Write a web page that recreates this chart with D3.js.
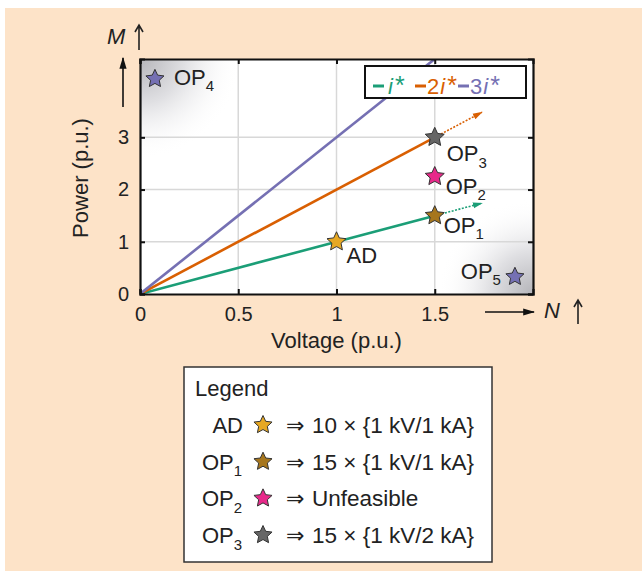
<!DOCTYPE html>
<html>
<head>
<meta charset="utf-8">
<script src="https://cdn.jsdelivr.net/npm/d3@7"></script>
<style>
  body { margin: 0; background: #fff; }
  svg text { font-family: "Liberation Sans", Arial, sans-serif; fill: #222; }
</style>
</head>
<body>
<svg id="chart" width="642" height="571"></svg>
<script>
// ---- data ----
const xTicks = [0, 0.5, 1, 1.5];
const yTicks = [0, 1, 2, 3];
const seriesNames = ['i*', '2i*', '3i*'];
const seriesSlopes = [1, 2, 3];
const seriesSolidEnd = [1.5, 1.5, 1.5];
const seriesDashEnd = [1.74, 1.74, null];
const seriesColors = ['#1b9e77', '#d95f02', '#7570b3'];

const pointNames = ['AD', 'OP1', 'OP2', 'OP3', 'OP4', 'OP5'];
const pointV = [1, 1.5, 1.5, 1.5, 0.076, 1.908];
const pointP = [1, 1.5, 2.25, 3, 4.12, 0.33];
const pointColors = ['#e6a823', '#a6761d', '#e7298a', '#666666', '#7570b3', '#7570b3'];

const legendNames = ['AD', 'OP1', 'OP2', 'OP3'];
const legendTexts = ['10 \u00d7 {1 kV/1 kA}', '15 \u00d7 {1 kV/1 kA}', 'Unfeasible', '15 \u00d7 {1 kV/2 kA}'];

// ---- layout ----
const svg = d3.select('#chart');
const plot = {left: 140, right: 533, top: 59, bottom: 294};
const x = d3.scaleLinear().domain([0, 2]).range([plot.left, plot.right]);
const y = d3.scaleLinear().domain([0, 4.5]).range([plot.bottom, plot.top]);

svg.append('rect').attr('x', 5).attr('y', 8).attr('width', 637).attr('height', 563).attr('fill', '#fde3c8');

const defs = svg.append('defs');
const grad = (id) => {
  const g = defs.append('radialGradient').attr('id', id).attr('r', 0.5);
  g.append('stop').attr('offset', 0).attr('stop-color', '#b5b5ba');
  g.append('stop').attr('offset', 0.45).attr('stop-color', '#e0e0e3');
  g.append('stop').attr('offset', 1).attr('stop-color', '#fff').attr('stop-opacity', 0);
};
grad('gTL'); grad('gBR');
defs.append('clipPath').attr('id', 'plotClip')
  .append('rect').attr('x', plot.left).attr('y', plot.top)
  .attr('width', plot.right - plot.left).attr('height', plot.bottom - plot.top);
const mk = (id, color, w) => defs.append('marker').attr('id', id)
  .attr('viewBox', '0 0 10 10').attr('refX', 9).attr('refY', 5)
  .attr('markerWidth', w).attr('markerHeight', w).attr('orient', 'auto')
  .attr('markerUnits', 'userSpaceOnUse')
  .append('path').attr('d', 'M0,2L10,5L0,8Z').attr('fill', color);
seriesColors.forEach((c, i) => mk('arr' + i, c, 10));
mk('arrK', '#111', 12);

svg.append('rect').attr('x', plot.left).attr('y', plot.top)
  .attr('width', plot.right - plot.left).attr('height', plot.bottom - plot.top).attr('fill', '#fff');

const clipG = svg.append('g').attr('clip-path', 'url(#plotClip)');
clipG.append('circle').attr('cx', plot.left).attr('cy', plot.top).attr('r', 100).attr('fill', 'url(#gTL)');
clipG.append('circle').attr('cx', plot.right).attr('cy', plot.bottom).attr('r', 95).attr('fill', 'url(#gBR)');

// grid
clipG.selectAll('.vg').data(xTicks.slice(1)).join('line')
  .attr('x1', d => x(d)).attr('x2', d => x(d)).attr('y1', plot.top).attr('y2', plot.bottom)
  .attr('stroke', '#d8d8d8').attr('stroke-width', 1.5);
clipG.selectAll('.hg').data(yTicks.slice(1)).join('line')
  .attr('y1', d => y(d)).attr('y2', d => y(d)).attr('x1', plot.left).attr('x2', plot.right)
  .attr('stroke', '#d8d8d8').attr('stroke-width', 1.5);

// series lines
seriesSlopes.forEach((s, i) => {
  clipG.append('line')
    .attr('x1', x(0)).attr('y1', y(0))
    .attr('x2', x(seriesSolidEnd[i])).attr('y2', y(s * seriesSolidEnd[i]))
    .attr('stroke', seriesColors[i]).attr('stroke-width', 2.6);
  if (seriesDashEnd[i] != null) {
    clipG.append('line')
      .attr('x1', x(seriesSolidEnd[i])).attr('y1', y(s * seriesSolidEnd[i]))
      .attr('x2', x(seriesDashEnd[i])).attr('y2', y(s * seriesDashEnd[i]))
      .attr('stroke', seriesColors[i]).attr('stroke-width', 1.6)
      .attr('stroke-dasharray', '2,1.5').attr('marker-end', `url(#arr${i})`);
  }
});

// axes (mirrored ticks, inward)
const fmt = d3.format('');
const axG = svg.append('g');
axG.append('g').attr('transform', `translate(0,${plot.bottom})`)
  .call(d3.axisBottom(x).tickValues(xTicks).tickSize(-5).tickPadding(13).tickFormat(fmt));
axG.append('g').attr('transform', `translate(0,${plot.top})`)
  .call(d3.axisTop(x).tickValues(xTicks).tickSize(-5).tickFormat(''));
axG.append('g').attr('transform', `translate(${plot.left},0)`)
  .call(d3.axisLeft(y).tickValues(yTicks).tickSize(-5).tickPadding(11).tickFormat(fmt));
axG.append('g').attr('transform', `translate(${plot.right},0)`)
  .call(d3.axisRight(y).tickValues(yTicks).tickSize(-5).tickFormat(''));
axG.selectAll('.domain').attr('stroke', '#111').attr('stroke-width', 2.2);
axG.selectAll('.tick line').attr('stroke', '#111').attr('stroke-width', 2);
axG.selectAll('.tick text').attr('font-size', 20).attr('font-family', '"Liberation Sans", Arial, sans-serif').attr('fill', '#222');

svg.append('text').attr('x', 336.5).attr('y', 348)
  .attr('text-anchor', 'middle').attr('font-size', 22).text('Voltage (p.u.)');
svg.append('text').attr('transform', 'translate(88,178) rotate(-90)')
  .attr('text-anchor', 'middle').attr('font-size', 22).text('Power (p.u.)');

// star path
const starPath = (R) => {
  const pts = [];
  for (let k = 0; k < 10; k++) {
    const r = k % 2 === 0 ? R : R * 0.48;
    const a = -Math.PI / 2 + k * Math.PI / 5;
    pts.push([r * Math.cos(a), r * Math.sin(a)]);
  }
  return 'M' + pts.map(p => p.join(',')).join('L') + 'Z';
};

// label helper with subscript
const label = (g, name, size, subSize) => {
  const m = name.match(/^([A-Z]+)(\d*)$/);
  g.append('tspan').text(m[1]);
  if (m[2]) g.append('tspan').attr('dy', size * 0.3).attr('font-size', subSize).text(m[2]);
};

// points
const labelPos = [[10, 21, 'start'], [9, 17, 'start'], [11, 17, 'start'], [12, 24, 'start'], [19, 6, 'start'], [-14, 2, 'end']];
const starR = [10, 10, 10, 10, 9.5, 9.5];
pointNames.forEach((n, i) => {
  svg.append('path').attr('d', starPath(starR[i]))
    .attr('transform', `translate(${x(pointV[i])},${y(pointP[i])})`)
    .attr('fill', pointColors[i]).attr('stroke', '#333').attr('stroke-width', 1)
    .attr('stroke-linejoin', 'round');
  const t = svg.append('text')
    .attr('x', x(pointV[i]) + labelPos[i][0]).attr('y', y(pointP[i]) + labelPos[i][1])
    .attr('text-anchor', labelPos[i][2]).attr('font-size', 22);
  label(t, n, 22, 15);
});

// series legend box
const lg = svg.append('g');
lg.append('rect').attr('x', 365).attr('y', 66).attr('width', 161).attr('height', 32)
  .attr('fill', '#fff').attr('stroke', '#111').attr('stroke-width', 2);
const dashX = [373, 415, 458];
seriesNames.forEach((n, i) => {
  const m = n.match(/^(\d*)i\*$/);
  lg.append('line').attr('x1', dashX[i]).attr('x2', dashX[i] + 11).attr('y1', 86).attr('y2', 86)
    .attr('stroke', seriesColors[i]).attr('stroke-width', 3);
  const t = lg.append('text').attr('x', dashX[i] + 12).attr('y', 94).attr('font-size', 22)
    .style('fill', seriesColors[i]);
  if (m[1]) t.append('tspan').text(m[1]);
  t.append('tspan').attr('font-style', 'italic').attr('dx', m[1] ? 1 : 3).text('i');
  t.append('tspan').attr('dx', 2).attr('font-size', 25).text('*');
});

// axis arrows
svg.append('line').attr('x1', 123).attr('y1', 107).attr('x2', 123).attr('y2', 58)
  .attr('stroke', '#111').attr('stroke-width', 1.6).attr('marker-end', 'url(#arrK)');
svg.append('line').attr('x1', 485).attr('y1', 312).attr('x2', 534).attr('y2', 312)
  .attr('stroke', '#111').attr('stroke-width', 1.6).attr('marker-end', 'url(#arrK)');
svg.append('text').attr('x', 107).attr('y', 44).attr('font-size', 22).attr('font-style', 'italic').text('M');
svg.append('text').attr('x', 544).attr('y', 318).attr('font-size', 22).attr('font-style', 'italic').text('N');
// thin up arrows next to M and N
const upArrow = (cx, y0, y1) => {
  svg.append('path').attr('d', `M${cx},${y1}L${cx},${y0}M${cx - 4},${y0 + 7}L${cx},${y0}L${cx + 4},${y0 + 7}`)
    .attr('fill', 'none').attr('stroke', '#222').attr('stroke-width', 1.6);
};
upArrow(139, 25, 50);
upArrow(578, 300, 324);

// bottom legend
const bl = svg.append('g');
bl.append('rect').attr('x', 184).attr('y', 367).attr('width', 308).attr('height', 195)
  .attr('fill', '#fff').attr('stroke', '#333').attr('stroke-width', 1.5);
bl.append('text').attr('x', 195).attr('y', 396).attr('font-size', 22).text('Legend');
const rowY = d3.scaleLinear().domain([0, 3]).range([433, 543]);
legendNames.forEach((n, i) => {
  const py = rowY(i);
  const t = bl.append('text').attr('x', n === 'AD' ? 243 : 202).attr('y', py)
    .attr('text-anchor', n === 'AD' ? 'end' : 'start').attr('font-size', 22);
  label(t, n, 22, 15);
  bl.append('path').attr('d', starPath(9.5)).attr('transform', `translate(${263},${py - 8})`)
    .attr('fill', pointColors[pointNames.indexOf(n)]).attr('stroke', '#333').attr('stroke-width', 1)
    .attr('stroke-linejoin', 'round');
  bl.append('text').attr('x', 286).attr('y', py).attr('font-size', 22)
    .style('font-family', '"DejaVu Sans", sans-serif').text('\u21d2');
  bl.append('text').attr('x', 312).attr('y', py).attr('font-size', 22.5).text(legendTexts[i]);
});
</script>
</body>
</html>
